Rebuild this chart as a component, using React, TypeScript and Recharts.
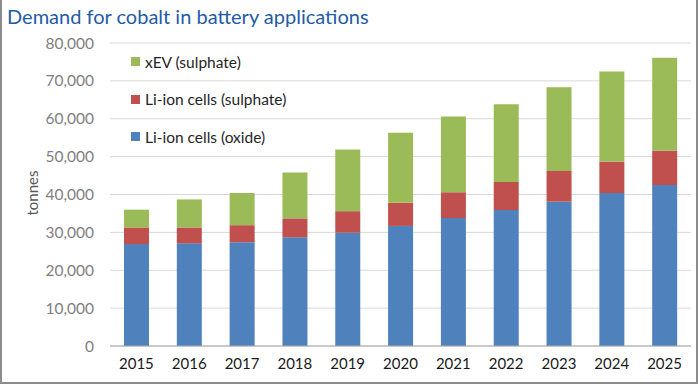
import { BarChart, Bar, XAxis, YAxis, CartesianGrid } from "recharts";

const YEARS = ["2015","2016","2017","2018","2019","2020","2021","2022","2023","2024","2025"];
const OXIDE    = [26900, 27100, 27400, 28700, 29900, 31700, 33800, 35900, 38100, 40400, 42500];
const SULPHATE = [4400, 4200, 4500, 5000, 5700, 6100, 6800, 7400, 8100, 8300, 9100];
const XEV      = [4700, 7400, 8500, 12100, 16300, 18500, 20000, 20500, 22100, 23800, 24500];
const Y_TICKS  = [0, 10000, 20000, 30000, 40000, 50000, 60000, 70000, 80000];

const SERIES = [
  { key: "oxide", name: "Li-ion cells (oxide)", color: "#4f81bd" },
  { key: "sulphate", name: "Li-ion cells (sulphate)", color: "#c0504d" },
  { key: "xev", name: "xEV (sulphate)", color: "#9bbb59" },
];

const data = YEARS.map((year, i) => ({
  year,
  oxide: OXIDE[i],
  sulphate: SULPHATE[i],
  xev: XEV[i],
}));

const FONT = "Lato, 'Open Sans', sans-serif";

// legend is listed top-down in reverse stack order, like Excel does it
function LegendBox() {
  return (
    <div style={{ position: "absolute", left: 129, top: 43, fontFamily: FONT, fontSize: 15.5, color: "#262626" }}>
      {[...SERIES].reverse().map(s => (
        <div key={s.key} style={{ display: "flex", alignItems: "center", height: 37.5, whiteSpace: "nowrap" }}>
          <span style={{ width: 9, height: 9, background: s.color, marginRight: 5, display: "inline-block" }} />
          <span>{s.name}</span>
        </div>
      ))}
    </div>
  );
}

export default function App() {
  return (
    <div style={{
      position: "absolute", left: 0, top: 0, width: 698, height: 384,
      background: "#fff", boxSizing: "border-box",
      borderLeft: "2px solid #8c8c8c", borderRight: "2px solid #8c8c8c", borderBottom: "2px solid #8c8c8c",
      fontFamily: FONT,
    }}>
      <div style={{ position: "absolute", left: 5, top: 4, fontSize: 20, color: "#1f5ba6", whiteSpace: "nowrap" }}>
        Demand for cobalt in battery applications
      </div>
      <div style={{
        position: "absolute", left: 30, top: 193, fontSize: 15, color: "#595959",
        transform: "translate(-50%, -50%) rotate(-90deg)", whiteSpace: "nowrap",
      }}>
        tonnes
      </div>
      <div style={{ position: "absolute", left: -2, top: 0 }}>
        <BarChart width={698} height={384} data={data} margin={{ top: 43, right: 7, bottom: 8, left: 0 }}>
          <CartesianGrid vertical={false} stroke="#d9d9d9" />
          <XAxis
            dataKey="year"
            tickLine={false}
            axisLine={{ stroke: "#a6a6a6" }}
            tick={{ fontSize: 15, fill: "#1a1a1a", fontFamily: FONT }}
            tickMargin={6}
            interval={0}
          />
          <YAxis
            width={110}
            domain={[0, 80000]}
            ticks={Y_TICKS}
            interval={0}
            tickLine={false}
            axisLine={false}
            tickMargin={10}
            tick={{ fontSize: 15.5, fill: "#7f7f7f", fontFamily: FONT }}
            tickFormatter={v => v.toLocaleString("en-US")}
          />
          {SERIES.map(s => (
            <Bar
              key={s.key}
              dataKey={s.key}
              name={s.name}
              stackId="a"
              fill={s.color}
              barSize={25}
              isAnimationActive={false}
            />
          ))}
        </BarChart>
      </div>
      <LegendBox />
    </div>
  );
}
